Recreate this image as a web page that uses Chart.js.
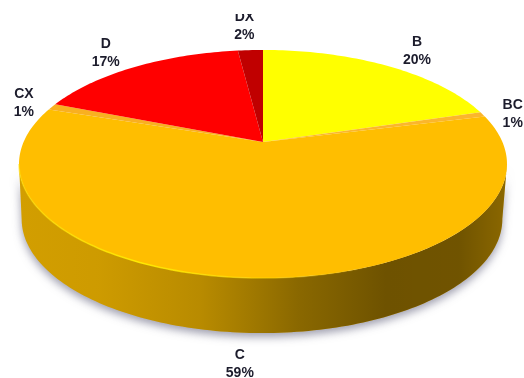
<!DOCTYPE html>
<html>
<head>
<meta charset="utf-8">
<style>
  html, body { margin: 0; padding: 0; background: #fff; }
  canvas { display: block; filter: blur(0.5px); }
</style>
<script src="https://cdn.jsdelivr.net/npm/chart.js@4/dist/chart.umd.min.js"></script>
</head>
<body>
<canvas id="grafico" width="524" height="378"></canvas>
<script>
const categorias = ['B', 'BC', 'C', 'CX', 'D', 'DX'];
const valores = [20.4, 0.7, 59, 0.9, 17, 2];
const cores = ['#ffff00', '#fbb62c', '#ffbe00', '#f9b020', '#ff0000', '#c00000'];
// deslocamento de cada rotulo em relacao a borda da fatia
const rotuloDx = [30, 30, -12, -28, -30, -6];
const rotuloDy = [-15, 0, 86, -4, -14, -24];

// perspectiva do disco
const apiceX = 263, apiceY = 142, raioX = 239.4, raioY = 109.8, fuga = 0.193;
const alturaDisco = 55;

function projeta(ang, r, base) {
  const u = Math.cos(ang) * r, v = Math.sin(ang) * r;
  const d = 1 - fuga * v;
  const k = base ? 0.985 : 1;
  return { x: apiceX - (base ? 1 : 0) + k * raioX * u / d, y: apiceY + (base ? alturaDisco : 0) + raioY * v / d };
}

function tracaBorda(ctx, ini, fim, base, primeiro) {
  const n = Math.max(2, Math.ceil(Math.abs(fim - ini) / 0.02));
  for (let i = 0; i <= n; i++) {
    const p = projeta(ini + (fim - ini) * i / n, 1, base);
    if (i === 0 && primeiro) ctx.moveTo(p.x, p.y); else ctx.lineTo(p.x, p.y);
  }
}

const disco3d = {
  id: 'disco3d',
  beforeDatasetDraw(chart, args) {
    const ctx = chart.ctx;
    const arcos = args.meta.data;
    const frenteIni = Math.asin(fuga), frenteFim = Math.PI - frenteIni;

    // parede lateral
    arcos.forEach((arco, i) => {
      const ini = Math.max(arco.startAngle, frenteIni);
      const fim = Math.min(arco.endAngle, frenteFim);
      if (fim <= ini) return;
      const parede = () => {
        ctx.beginPath();
        tracaBorda(ctx, ini, fim, false, true);
        tracaBorda(ctx, fim, ini, true, false);
        ctx.closePath();
      };
      ctx.save();
      ctx.shadowColor = 'rgba(80,80,110,0.55)';
      ctx.shadowBlur = 9;
      ctx.shadowOffsetY = 4;
      parede();
      ctx.fillStyle = cores[i];
      ctx.fill();
      ctx.restore();

      const sombra = ctx.createLinearGradient(20, 0, 508, 0);
      sombra.addColorStop(0, 'rgba(30,30,0,0.20)');
      sombra.addColorStop(0.16, 'rgba(30,30,0,0.22)');
      sombra.addColorStop(0.37, 'rgba(20,20,0,0.30)');
      sombra.addColorStop(0.57, 'rgba(10,10,0,0.48)');
      sombra.addColorStop(0.75, 'rgba(0,0,0,0.57)');
      sombra.addColorStop(0.9, 'rgba(0,0,0,0.56)');
      sombra.addColorStop(1, 'rgba(0,0,0,0.45)');
      parede();
      ctx.fillStyle = sombra;
      ctx.fill();
    });

    // face superior
    arcos.forEach((arco, i) => {
      ctx.beginPath();
      ctx.moveTo(apiceX, apiceY);
      tracaBorda(ctx, arco.startAngle, arco.endAngle, false, false);
      ctx.closePath();
      ctx.fillStyle = cores[i];
      ctx.fill();
    });

    // brilho na borda da frente
    const brilho = ctx.createLinearGradient(20, 0, 508, 0);
    brilho.addColorStop(0, 'rgba(255,225,0,0.5)');
    brilho.addColorStop(0.25, 'rgba(255,235,0,0.95)');
    brilho.addColorStop(0.5, 'rgba(255,220,0,0.5)');
    brilho.addColorStop(0.75, 'rgba(255,200,0,0)');
    ctx.beginPath();
    tracaBorda(ctx, frenteIni, frenteFim, false, true);
    ctx.strokeStyle = brilho;
    ctx.lineWidth = 1.6;
    ctx.stroke();
    return false;
  },
  // rotulos: o return false acima cancela o afterDatasetDraw, entao fica aqui
  afterDatasetsDraw(chart) {
    const ctx = chart.ctx;
    ctx.save();
    ctx.beginPath();
    ctx.rect(0, 14, chart.width, chart.height - 14);
    ctx.clip();
    ctx.font = 'bold 14px "Liberation Sans", Arial, sans-serif';
    ctx.textAlign = 'center';
    ctx.textBaseline = 'middle';
    ctx.fillStyle = '#1c1c2c';
    chart.getDatasetMeta(0).data.forEach((arco, i) => {
      const p = projeta((arco.startAngle + arco.endAngle) / 2, 1, false);
      const x = p.x + rotuloDx[i], y = p.y + rotuloDy[i];
      ctx.fillText(categorias[i], x, y - 9);
      ctx.fillText(Math.round(valores[i]) + '%', x, y + 9);
    });
    ctx.restore();
  }
};

new Chart(document.getElementById('grafico').getContext('2d'), {
  type: 'pie',
  data: {
    labels: categorias,
    datasets: [{ data: valores, backgroundColor: cores, borderWidth: 0 }]
  },
  options: {
    responsive: false,
    animation: false,
    plugins: {
      legend: { display: false },
      tooltip: { enabled: false }
    }
  },
  plugins: [disco3d]
});
</script>
</body>
</html>
